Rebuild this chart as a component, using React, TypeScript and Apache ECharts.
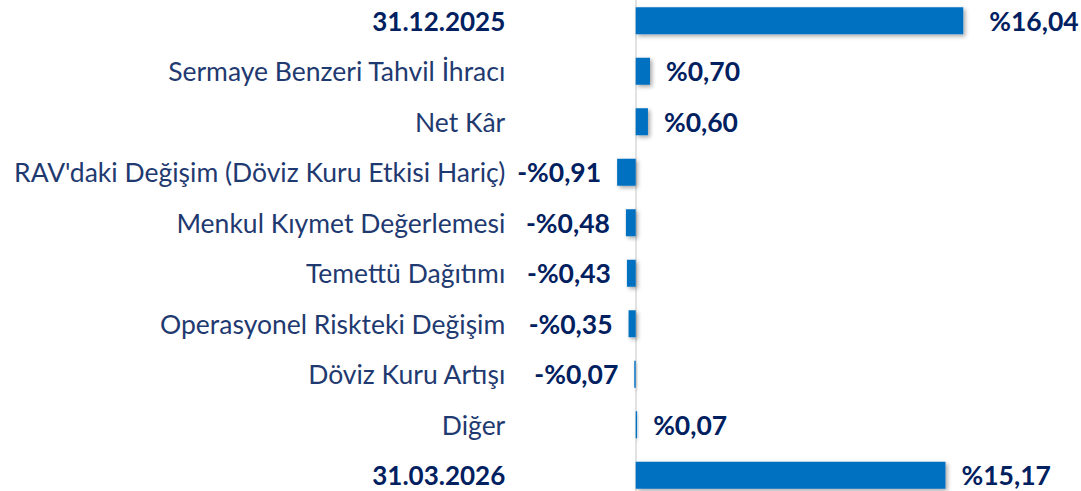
import React, { useEffect, useRef } from "react";
import * as echarts from "echarts";

const categories = [
  "31.12.2025",
  "Sermaye Benzeri Tahvil İhracı",
  "Net Kâr",
  "RAV'daki Değişim (Döviz Kuru Etkisi Hariç)",
  "Menkul Kıymet Değerlemesi",
  "Temettü Dağıtımı",
  "Operasyonel Riskteki Değişim",
  "Döviz Kuru Artışı",
  "Diğer",
  "31.03.2026",
];
const values = [16.04, 0.7, 0.6, -0.91, -0.48, -0.43, -0.35, -0.07, 0.07, 15.17];
const boldCategories = ["31.12.2025", "31.03.2026"];

const FONT = "Lato";

function fmt(v: number): string {
  const s = Math.abs(v).toFixed(2).replace(".", ",");
  return (v < 0 ? "-%" : "%") + s;
}

export default function App() {
  const ref = useRef<HTMLDivElement>(null);
  useEffect(() => {
    if (!ref.current) return;
    const chart = echarts.init(ref.current, undefined, { renderer: "svg" });
    const pxPerUnit = 20.42;
    const zeroX = 635.7;
    const minV = -1;
    const maxV = 19;
    const left = zeroX + minV * pxPerUnit;
    const right = 1081 - (zeroX + maxV * pxPerUnit);
    chart.setOption({
      animation: false,
      grid: { left, right, top: 5.5, height: 505, containLabel: false },
      xAxis: {
        type: "value",
        min: minV,
        max: maxV,
        show: false,
        splitLine: { show: false },
      },
      yAxis: {
        type: "category",
        inverse: true,
        data: categories,
        axisTick: { show: false },
        axisLine: { show: true, onZero: true, lineStyle: { color: "#D9D9D9", width: 1.5 } },
        axisLabel: {
          margin: 110,
          fontFamily: FONT,
          fontSize: 26.5,
          color: "#1F3A70",
          formatter: (v: string) => (boldCategories.includes(v) ? "{b|" + v + "}" : v),
          rich: {
            b: { fontFamily: FONT, fontSize: 26, fontWeight: "bold", color: "#002060" },
          },
        },
      },
      series: [
        {
          type: "bar",
          barWidth: 27,
          data: values.map((v, i) => ({
            value: v,
            label: {
              position: v < 0 ? "left" : "right",
              distance: i === 0 ? 26 : 16,
            },
          })),
          itemStyle: {
            color: "#0070C0",
            shadowColor: "rgba(0,0,0,0.35)",
            shadowBlur: 4,
            shadowOffsetX: 2,
            shadowOffsetY: 2,
          },
          label: {
            show: true,
            fontFamily: FONT,
            fontSize: 26.5,
            fontWeight: "bold",
            color: "#002060",
            formatter: (p: any) => fmt(p.value),
          },
        },
      ],
    });
    return () => chart.dispose();
  }, []);
  return (
    <div
      ref={ref}
      style={{ position: "fixed", left: 0, top: -10, width: 1081, height: 511, background: "#fff" }}
    />
  );
}
